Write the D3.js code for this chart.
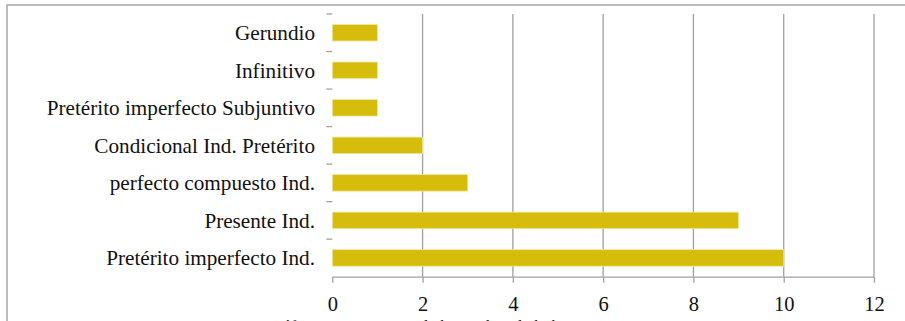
<!DOCTYPE html>
<html>
<head>
<meta charset="utf-8">
<script src="https://cdn.jsdelivr.net/npm/d3@7"></script>
<style>
  html, body { margin: 0; padding: 0; background: #fff; overflow: hidden; }
  svg { display: block; }
</style>
</head>
<body>
<svg id="chart" width="905" height="321"></svg>
<script>
// Verb tenses and how often each one appears (top to bottom)
const categories = [
  "Gerundio",
  "Infinitivo",
  "Pretérito imperfecto Subjuntivo",
  "Condicional Ind. Pretérito",
  "perfecto compuesto Ind.",
  "Presente Ind.",
  "Pretérito imperfecto Ind."
];
const values = [1, 1, 1, 2, 3, 9, 10];
const xTicks = [0, 2, 4, 6, 8, 10, 12];
const caption = "Gráfico 1: Frecuencia de los verbos de la historia";

const serif = "'Liberation Serif', 'Times New Roman', Tinos, 'DejaVu Serif', serif";

const svg = d3.select("#chart");

const plot = { left: 332.3, right: 874, top: 14, bottom: 276.7 };

const x = d3.scaleLinear().domain([0, 12]).range([plot.left, plot.right]);
const y = d3.scaleBand().domain(categories).range([plot.top, plot.bottom])
  .paddingInner(0.56).paddingOuter(0.28);

// Frame around the chart area
svg.append("path")
  .attr("d", `M7,321 L7,5 L905,5`)
  .attr("fill", "none")
  .attr("stroke", "#a6a6a6")
  .attr("stroke-width", 1.5);

// Vertical gridlines
svg.append("g")
  .selectAll("line")
  .data(xTicks.filter(d => d > 0))
  .join("line")
  .attr("x1", d => x(d)).attr("x2", d => x(d))
  .attr("y1", plot.top).attr("y2", plot.bottom)
  .attr("stroke", "#a0a0a0")
  .attr("stroke-width", 1.3);

// Bars
svg.append("g")
  .selectAll("rect")
  .data(values)
  .join("rect")
  .attr("x", x(0))
  .attr("y", (d, i) => y(categories[i]))
  .attr("width", d => x(d) - x(0))
  .attr("height", y.bandwidth())
  .attr("fill", "#d6bc0b")
  .attr("stroke", "#f3e6a0")
  .attr("stroke-width", 0.8);

// Bottom value axis
const xAxis = svg.append("g")
  .attr("transform", `translate(0,${plot.bottom})`)
  .call(d3.axisBottom(x).tickValues(xTicks).tickSize(6).tickPadding(14).tickSizeOuter(0));
xAxis.select(".domain").attr("stroke", "#a0a0a0").attr("stroke-width", 1.3);
xAxis.selectAll(".tick line").attr("stroke", "#a0a0a0").attr("stroke-width", 1.3);
xAxis.selectAll(".tick text")
  .attr("fill", "#111")
  .attr("font-family", null)
  .attr("font-size", null)
  .style("font-family", serif)
  .style("font-size", "20.5px");

// Category labels on the left with small boundary ticks
const boundaries = d3.range(categories.length + 1).map(i =>
  plot.top + i * (plot.bottom - plot.top) / categories.length);
svg.append("g")
  .selectAll("line")
  .data(boundaries.slice(0, -1))
  .join("line")
  .attr("x1", plot.left - 6).attr("x2", plot.left)
  .attr("y1", d => d).attr("y2", d => d)
  .attr("stroke", "#a0a0a0")
  .attr("stroke-width", 1.3);

svg.append("g")
  .selectAll("text")
  .data(categories)
  .join("text")
  .attr("x", 315)
  .attr("y", d => y(d) + y.bandwidth() / 2)
  .attr("dy", "0.35em")
  .attr("text-anchor", "end")
  .attr("fill", "#111")
  .style("font-family", serif)
  .style("font-size", "21.2px")
  .text(d => d);

// Figure caption below the axis
svg.append("text")
  .attr("x", 262)
  .attr("y", 332)
  .attr("fill", "#222")
  .style("font-family", serif)
  .style("font-style", "italic")
  .style("font-size", "17px")
  .text(caption);
</script>
</body>
</html>
